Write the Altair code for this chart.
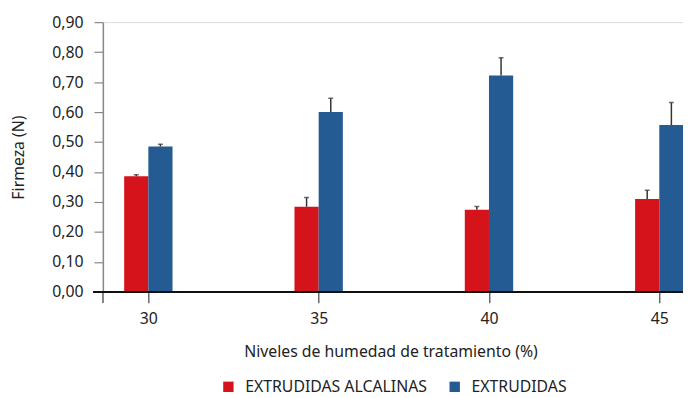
import altair as alt
import pandas as pd

humedad = [30, 35, 40, 45]
series = ["EXTRUDIDAS ALCALINAS", "EXTRUDIDAS"]
alcalinas = [0.386, 0.284, 0.274, 0.310]
alcalinas_err = [0.005, 0.031, 0.011, 0.029]
extrudidas = [0.485, 0.600, 0.722, 0.557]
extrudidas_err = [0.008, 0.046, 0.059, 0.075]
y_ticks = [0.0, 0.1, 0.2, 0.3, 0.4, 0.5, 0.6, 0.7, 0.8, 0.9]
colors = ["#D5131B", "#245B93"]

rows = []
for h, v, e in zip(humedad, alcalinas, alcalinas_err):
    rows.append({"humedad": h, "serie": series[0], "valor": v, "err": e})
for h, v, e in zip(humedad, extrudidas, extrudidas_err):
    rows.append({"humedad": h, "serie": series[1], "valor": v, "err": e})
df = pd.DataFrame(rows)

FONT = "Noto Sans"
FS = 16
W, H = 587, 273
BW = 0.71
XTITLE = "Niveles de humedad de tratamiento (%)"
YTITLE = "Firmeza (N)"

xscale = alt.Scale(domain=[28.665, 45.696], nice=False, zero=False)
yscale = alt.Scale(domain=[0, 0.9], nice=False)

base = alt.Chart(df).transform_calculate(
    x0=f"datum.serie == '{series[0]}' ? datum.humedad - {BW} : datum.humedad",
).transform_calculate(
    x1=f"datum.x0 + {BW}",
    xc=f"datum.x0 + {BW/2}",
    top="datum.valor + datum.err",
)

xaxis = alt.Axis(
    values=humedad, format="d", domain=False, tickSize=11, tickColor="#444",
    tickWidth=1.2, labelPadding=8, labelFontSize=FS, labelFont=FONT, labelColor="#222",
    labelOverlap=False,
    title=XTITLE, titleFont=FONT, titleFontSize=FS,
    titleFontWeight="normal", titleColor="#222", titleX=291, titleY=60,
    titleBaseline="middle", grid=False,
)
yaxis = alt.Axis(
    values=y_ticks, labelExpr="replace(format(datum.value, '.2f'), '.', ',')",
    domainColor="#888", domainWidth=1.5, tickColor="#888", tickWidth=1.2, tickSize=9,
    labelPadding=11, labelFontSize=FS, labelFont=FONT, labelColor="#222", labelOverlap=False,
    title=YTITLE, titleFont=FONT, titleFontSize=FS, titleFontWeight="normal",
    titleColor="#222", titleX=-85, titleY=H / 2, titleBaseline="middle", grid=False,
)

bars = base.mark_bar(clip=True).encode(
    x=alt.X("x0:Q", scale=xscale, axis=xaxis, title=XTITLE),
    x2="x1:Q",
    y=alt.Y("valor:Q", scale=yscale, axis=yaxis, title=YTITLE),
    y2=alt.datum(0),
    color=alt.Color(
        "serie:N",
        scale=alt.Scale(domain=series, range=colors),
        legend=alt.Legend(
            title=None, orient="none", legendX=119, legendY=361, direction="horizontal",
            symbolType="square", symbolSize=110, symbolStrokeWidth=0, labelFont=FONT,
            labelFontSize=FS, labelColor="#222", labelOffset=9, columnPadding=19, padding=0,
            labelLimit=400,
        ),
    ),
)

err = base.mark_rule(color="#333", strokeWidth=1.5, clip=True).encode(
    x=alt.X("xc:Q", scale=xscale, axis=xaxis, title=XTITLE),
    y=alt.Y("valor:Q", scale=yscale, axis=yaxis, title=YTITLE),
    y2="top:Q",
)
cap = base.mark_tick(orient="horizontal", size=5, thickness=1.5, color="#333", clip=True).encode(
    x=alt.X("xc:Q", scale=xscale, axis=xaxis, title=XTITLE),
    y=alt.Y("top:Q", scale=yscale, axis=yaxis, title=YTITLE),
)

xline = alt.Chart(df).mark_rule(color="#111", strokeWidth=1.5).encode(
    x=alt.value(-10), x2=alt.value(W), y=alt.value(H)
)
yext = alt.Chart(df).mark_rule(color="#888", strokeWidth=1.5).encode(
    x=alt.value(0), y=alt.value(H), y2=alt.value(H + 11)
)

chart = alt.layer(bars, err, cap, yext, xline).properties(
    width=W, height=H,
    autosize=alt.AutoSizeParams(type="none"),
    padding={"left": 96, "top": 12, "right": 0, "bottom": 104},
).configure_view(stroke=None).configure(background="white")

chart.save("out.html", embed_options={"renderer": "svg", "actions": False})
